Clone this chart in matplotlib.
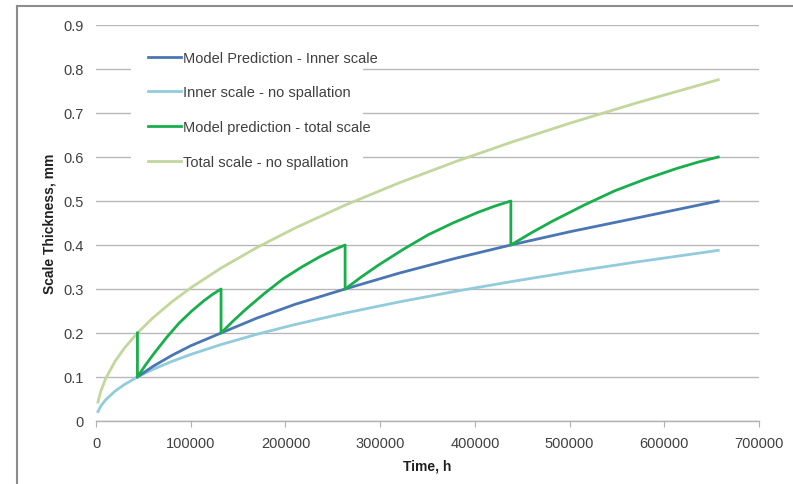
import matplotlib
matplotlib.use("Agg")
import matplotlib.pyplot as plt
from matplotlib.patches import Rectangle
from matplotlib.lines import Line2D

plt.rcParams['font.family'] = ['Liberation Sans', 'DejaVu Sans']

# no-spallation curves (time in h, thickness in mm)
t_nospall = [2000, 5000, 10000, 20000, 30000, 43700, 60000, 80000, 100000, 132000,
             170000, 210000, 263000, 320000, 380000, 438000, 500000, 570000, 657000]
inner_nospall = [0.0214, 0.0338, 0.0478, 0.0677, 0.0829, 0.100, 0.1172, 0.1353, 0.1513, 0.1738,
                 0.1972, 0.2192, 0.2453, 0.2706, 0.2949, 0.3166, 0.3383, 0.3612, 0.3878]
total_nospall = [0.0428, 0.0676, 0.0956, 0.1354, 0.1658, 0.200, 0.2344, 0.2706, 0.3026, 0.3476,
                 0.3944, 0.4384, 0.4906, 0.5412, 0.5898, 0.6332, 0.6766, 0.7224, 0.7756]

# model prediction - inner scale (starts at first spallation)
t_inner = [43700, 60000, 80000, 100000, 132000, 170000, 210000, 263000,
           320000, 380000, 438000, 500000, 570000, 657000]
inner_model = [0.100, 0.124, 0.149, 0.171, 0.200, 0.234, 0.265, 0.300,
               0.336, 0.370, 0.400, 0.430, 0.461, 0.500]

# model prediction - total scale (saw-tooth, spallation drops)
t_total = [43700,
           43700, 52500, 61400, 74600, 87900, 101100, 114300, 123200, 132000,
           132000, 145100, 158200, 177900, 197500, 217200, 236800, 249900, 263000,
           263000, 280500, 298000, 324300, 350500, 376800, 403000, 420500, 438000,
           438000, 459900, 481800, 514700, 547500, 580400, 613200, 635100, 657000]
total_model = [0.200,
               0.100, 0.128, 0.154, 0.190, 0.223, 0.250, 0.274, 0.288, 0.300,
               0.200, 0.228, 0.254, 0.290, 0.323, 0.350, 0.374, 0.388, 0.400,
               0.300, 0.328, 0.354, 0.390, 0.423, 0.450, 0.474, 0.488, 0.500,
               0.400, 0.428, 0.454, 0.490, 0.523, 0.550, 0.574, 0.588, 0.600]

c_inner = '#4a76b4'
c_inner_ns = '#92cbdb'
c_total = '#19ae4c'
c_total_ns = '#c2d79c'
txt = '#404040'

fig = plt.figure(figsize=(7.93, 4.85), dpi=100)
ax = fig.add_axes([0.1211, 0.1299, 0.8360, 0.8165])

# outer frame of the original chart (left and top only)
fig.add_artist(Line2D([0.021, 0.021], [0.0, 0.986], transform=fig.transFigure,
                      color='#8c8c8c', lw=1.5))
fig.add_artist(Line2D([0.021, 1.0], [0.986, 0.986], transform=fig.transFigure,
                      color='#8c8c8c', lw=1.5))

lw = 2.0
ax.plot(t_inner, inner_model, color=c_inner, lw=lw, label='Model Prediction - Inner scale', zorder=4)
ax.plot(t_nospall, inner_nospall, color=c_inner_ns, lw=lw, label='Inner scale - no spallation', zorder=3)
ax.plot(t_total, total_model, color=c_total, lw=lw, label='Model prediction - total scale', zorder=5)
ax.plot(t_nospall, total_nospall, color=c_total_ns, lw=lw, label='Total scale - no spallation', zorder=3)

ax.set_xlim(0, 700000)
ax.set_ylim(0, 0.9)
ax.set_xticks(range(0, 700001, 100000))
ax.set_yticks([i / 10 for i in range(10)])
ax.set_yticklabels(['0', '0.1', '0.2', '0.3', '0.4', '0.5', '0.6', '0.7', '0.8', '0.9'])
ax.grid(axis='y', color='#b8b8b8', lw=1.0)
ax.set_axisbelow(True)
for s in ['top', 'right', 'left']:
    ax.spines[s].set_visible(False)
ax.spines['bottom'].set_color('#b0b0b0')
ax.spines['bottom'].set_linewidth(1.0)
ax.tick_params(axis='x', colors='#b0b0b0', length=4, labelcolor=txt, labelsize=10.5, pad=7)
ax.tick_params(axis='y', length=0, labelcolor=txt, labelsize=10.5, pad=9)

ax.set_xlabel('Time, h', fontsize=10, fontweight='bold', color='#202020', labelpad=6)
ax.set_ylabel('Scale Thickness, mm', fontsize=10, fontweight='bold', color='#202020', labelpad=5)

# white patch behind legend to break gridlines like the original
ax.add_patch(Rectangle((0.052, 0.655), 0.35, 0.28, transform=ax.transAxes,
                       facecolor='white', edgecolor='none', zorder=2))
leg = ax.legend(loc='upper left', bbox_to_anchor=(0.070, 0.950), frameon=False,
                fontsize=10.5, handlelength=2.25, handletextpad=0.12, labelspacing=1.42,
                borderaxespad=0)
for t in leg.get_texts():
    t.set_color(txt)

fig.savefig('out.png', dpi=100)
